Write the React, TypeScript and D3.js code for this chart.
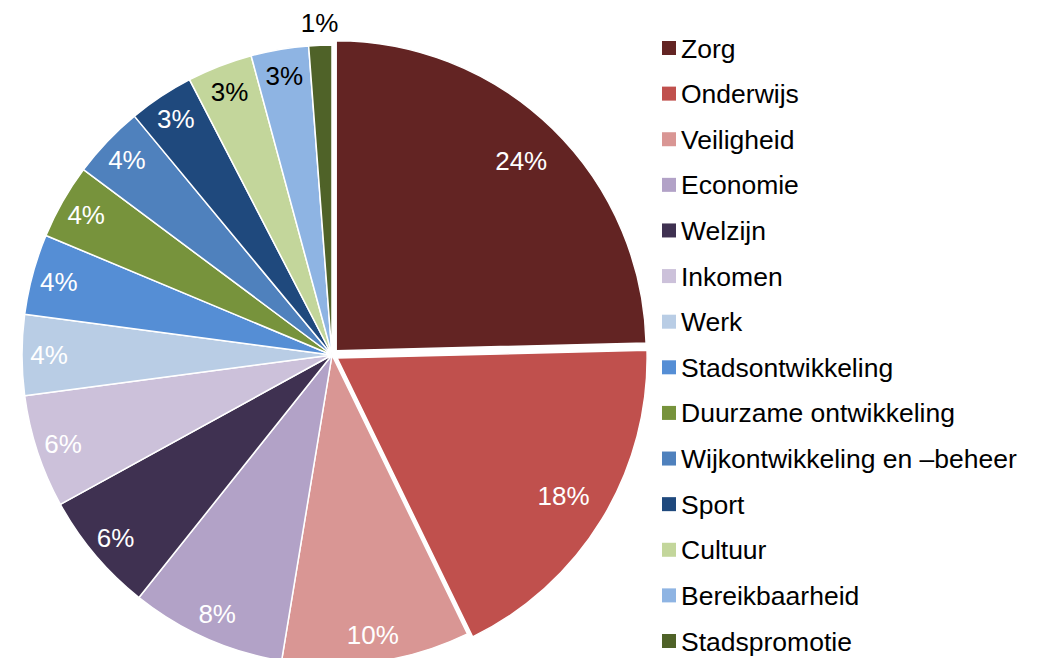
import React from "react";
import * as d3 from "d3";

const categories = [
  "Zorg",
  "Onderwijs",
  "Veiligheid",
  "Economie",
  "Welzijn",
  "Inkomen",
  "Werk",
  "Stadsontwikkeling",
  "Duurzame ontwikkeling",
  "Wijkontwikkeling en \u2013beheer",
  "Sport",
  "Cultuur",
  "Bereikbaarheid",
  "Stadspromotie",
];

const values = [24.6, 18.2, 9.8, 8.1, 6.3, 5.9, 4.2, 4.2, 3.9, 3.8, 3.4, 3.4, 3.0, 1.2];

const pctLabels = ["24%", "18%", "10%", "8%", "6%", "6%", "4%", "4%", "4%", "4%", "3%", "3%", "3%", "1%"];

const colors = [
  "#632423",
  "#C0504D",
  "#D99694",
  "#B2A2C7",
  "#3F3151",
  "#CCC1DA",
  "#B9CDE5",
  "#558ED5",
  "#77933C",
  "#4F81BD",
  "#1F497D",
  "#C3D69B",
  "#8EB4E3",
  "#4F6228",
];

const labelColors = [
  "#fff", "#fff", "#fff", "#fff", "#fff", "#fff", "#fff",
  "#fff", "#fff", "#fff", "#fff", "#000", "#000", "#000",
];

const exploded = [6, 6, 0, 0, 0, 0, 0, 0, 0, 0, 0, 0, 0, 0];

const W = 1041;
const H = 658;
const cx = 332;
const cy = 355;
const R = 310;
const FONT = "'Liberation Sans', Arial, sans-serif";

export default function App() {
  const pie = d3.pie<number>().sort(null).value((d) => d);
  const arcs = pie(values);
  const arcGen = d3.arc<d3.PieArcDatum<number>>().innerRadius(0).outerRadius(R);

  const legendY = d3
    .scalePoint<string>()
    .domain(categories)
    .range([48, 641]);

  return (
    <svg
      width={W}
      height={H}
      style={{ position: "absolute", left: 0, top: 0, background: "#fff" }}
      fontFamily={FONT}
    >
      <g transform={`translate(${cx},${cy})`}>
        {arcs.map((a, i) => {
          const mid = (a.startAngle + a.endAngle) / 2;
          const ox = Math.sin(mid) * exploded[i];
          const oy = -Math.cos(mid) * exploded[i];
          return (
            <path
              key={i}
              d={arcGen(a) || ""}
              transform={`translate(${ox},${oy})`}
              fill={colors[i]}
              stroke="#fff"
              strokeWidth={1.5}
              strokeLinejoin="round"
            />
          );
        })}
        {arcs.map((a, i) => {
          const mid = (a.startAngle + a.endAngle) / 2;
          let lr: number;
          if (values[i] < 2) lr = R + 23;
          else if (values[i] > 15) lr = R * 0.855;
          else lr = R * 0.913;
          const ox = Math.sin(mid) * exploded[i];
          const oy = -Math.cos(mid) * exploded[i];
          const x = Math.sin(mid) * lr + ox;
          const y = -Math.cos(mid) * lr + oy;
          return (
            <text
              key={"l" + i}
              x={x}
              y={y}
              dy="0.36em"
              textAnchor="middle"
              fontSize={26}
              fill={labelColors[i]}
            >
              {pctLabels[i]}
            </text>
          );
        })}
      </g>
      <g>
        {categories.map((c, i) => {
          const y = legendY(c) as number;
          return (
            <g key={c}>
              <rect x={662} y={y - 7} width={14} height={14} fill={colors[i]} />
              <text x={681} y={y} dy="0.36em" fontSize={26.5} fill="#000">
                {c}
              </text>
            </g>
          );
        })}
      </g>
    </svg>
  );
}
